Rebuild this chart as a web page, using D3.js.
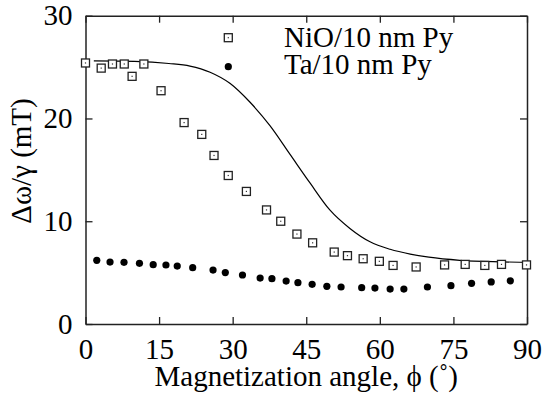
<!DOCTYPE html>
<html lang="en">
<head>
    <meta charset="UTF-8">
    <title>Linewidth vs magnetization angle</title>
    <script src="https://cdn.jsdelivr.net/npm/d3@7/dist/d3.min.js"></script>
    <style>
        body { margin: 0; background: #fff; }
        text { font-family: "Liberation Serif", "Times New Roman", serif; fill: #000; }
    </style>
</head>
<body>
<svg id="chart" width="545" height="398"></svg>
<script>
    // NiO/10 nm Py (open squares)
    var nioAngle = [0, 3.2, 5.5, 7.9, 9.5, 11.9, 15.4, 20.1, 23.7, 26.2, 29.1, 32.8, 36.9, 39.8, 43.1,
        46.3, 50.7, 53.4, 56.6, 59.9, 62.7, 67.4, 73.2, 77.4, 81.4, 84.8, 89.9];
    var nioWidth = [25.4, 24.9, 25.3, 25.3, 24.1, 25.3, 22.7, 19.6, 18.45, 16.4, 14.45, 12.9, 11.1, 10.0, 8.75,
        7.9, 7.0, 6.65, 6.35, 6.1, 5.7, 5.55, 5.75, 5.8, 5.7, 5.8, 5.75];
    // Ta/10 nm Py (filled circles)
    var taAngle = [2.3, 5.0, 7.85, 11.0, 13.8, 16.4, 18.7, 21.85, 26.0, 28.5, 32.0, 35.6, 38.0, 40.9, 43.3,
        46.2, 49.2, 52.1, 56.3, 59.0, 62.1, 64.9, 69.7, 74.5, 78.7, 82.7, 86.6];
    var taWidth = [6.2, 6.03, 6.0, 5.9, 5.77, 5.74, 5.64, 5.48, 5.25, 5.0, 4.77, 4.47, 4.41, 4.18, 4.02,
        3.86, 3.67, 3.6, 3.53, 3.5, 3.4, 3.4, 3.6, 3.73, 3.96, 4.09, 4.2];
    // model curve (solid line)
    var fitAngle = [1.7, 10, 17, 21.3, 25.4, 29.5, 33.5, 37.6, 41.7, 45.8, 49.8, 53.9, 58, 62.1, 66.2, 70, 76.3, 84.5, 90];
    var fitWidth = [25.6, 25.55, 25.35, 25.1, 24.5, 23.4, 21.6, 19.3, 16.5, 13.7, 11.1, 9.3, 8.0, 7.27, 6.8, 6.5, 6.2, 6.05, 6.0];

    var xTicks = [0, 15, 30, 45, 60, 75, 90];
    var yTicks = [0, 10, 20, 30];
    var legendLabels = ["NiO/10 nm Py", "Ta/10 nm Py"];

    var svg = d3.select("#chart");
    var mLeft = 85.5, mRight = 527, mTop = 15.7, mBottom = 324;

    var x = d3.scaleLinear().domain([0, 90]).range([mLeft, mRight]);
    var y = d3.scaleLinear().domain([0, 30]).range([mBottom, mTop]);

    var zip = function (a, b) { return a.map(function (v, i) { return [v, b[i]]; }); };

    // frame with inward ticks on all four sides
    function axisStyle(g) {
        g.selectAll("path.domain").attr("stroke", "#222").attr("stroke-width", 1.5);
        g.selectAll(".tick line").attr("stroke", "#222").attr("stroke-width", 1.3);
    }
    var fontSize = 29;
    svg.append("g").attr("transform", "translate(0," + mBottom + ")")
        .call(d3.axisBottom(x).tickValues(xTicks).tickSizeInner(-7).tickSizeOuter(0).tickPadding(14))
        .call(axisStyle)
        .selectAll("text").attr("font-size", fontSize).attr("font-family", "Liberation Serif");
    svg.append("g").attr("transform", "translate(0," + mTop + ")")
        .call(d3.axisTop(x).tickValues(xTicks).tickSizeInner(-7).tickSizeOuter(0).tickFormat(""))
        .call(axisStyle);
    svg.append("g").attr("transform", "translate(" + mLeft + ",0)")
        .call(d3.axisLeft(y).tickValues(yTicks).tickSizeInner(-7).tickSizeOuter(0).tickPadding(13))
        .call(axisStyle)
        .selectAll("text").attr("font-size", fontSize).attr("font-family", "Liberation Serif");
    svg.append("g").attr("transform", "translate(" + mRight + ",0)")
        .call(d3.axisRight(y).tickValues(yTicks).tickSizeInner(-7).tickSizeOuter(0).tickFormat(""))
        .call(axisStyle);
    svg.selectAll(".tick text").attr("fill", "#000");

    // fit curve
    var line = d3.line().x(function (d) { return x(d[0]); }).y(function (d) { return y(d[1]); })
        .curve(d3.curveMonotoneX);
    svg.append("path").datum(zip(fitAngle, fitWidth))
        .attr("d", line).attr("fill", "none").attr("stroke", "#000").attr("stroke-width", 1.2);

    function square(g, cx, cy) {
        g.append("rect").attr("x", cx - 4).attr("y", cy - 4).attr("width", 8).attr("height", 8)
            .attr("fill", "#fff").attr("stroke", "#222").attr("stroke-width", 1.3);
        g.append("rect").attr("x", cx - 0.6).attr("y", cy - 0.6).attr("width", 1.2).attr("height", 1.2)
            .attr("fill", "#333");
    }

    var sq = svg.append("g");
    zip(nioAngle, nioWidth).forEach(function (d) { square(sq, x(d[0]), y(d[1])); });

    svg.append("g").selectAll("circle").data(zip(taAngle, taWidth)).enter().append("circle")
        .attr("cx", function (d) { return x(d[0]); })
        .attr("cy", function (d) { return y(d[1]); })
        .attr("r", 3.6).attr("fill", "#000");

    // legend
    square(svg, 228.3, 37.7);
    svg.append("circle").attr("cx", 228.3).attr("cy", 66.7).attr("r", 3.6).attr("fill", "#000");
    svg.append("text").attr("x", 284).attr("y", 47.3).attr("font-size", fontSize).text(legendLabels[0]);
    svg.append("text").attr("x", 284).attr("y", 74).attr("font-size", fontSize).text(legendLabels[1]);

    // axis titles
    svg.append("text").attr("x", (mLeft + mRight) / 2).attr("y", 386).attr("text-anchor", "middle")
        .attr("font-size", fontSize).text("Magnetization angle, \u03D5 (\u02DA)");
    svg.append("text").attr("transform", "translate(31,161) rotate(-90)").attr("text-anchor", "middle")
        .attr("font-size", fontSize).text("\u0394\u03C9/\u03B3 (mT)");
</script>
</body>
</html>
